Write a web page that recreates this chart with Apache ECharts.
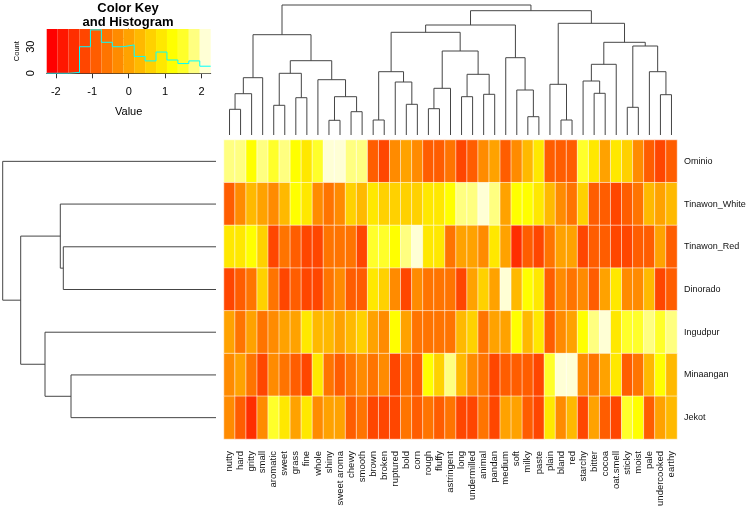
<!DOCTYPE html>
<html><head><meta charset="utf-8">
<script src="https://cdn.jsdelivr.net/npm/echarts@6/dist/echarts.min.js"></script>
<style>html,body{margin:0;padding:0;background:#fff}#c{width:750px;height:511px}</style>
</head><body><div id="c"></div>
<script>
// ---------- data ----------
const columns = ['nutty','hard','gritty','small','aromatic','sweet','grass','fine','whole','shiny','sweet aroma','chewy','smooth','brown','broken','ruptured','bold','corn','rough','fluffy','astringent','long','undermilled','animal','pandan','medium','soft','milky','paste','plain','bland','red','starchy','bitter','cocoa','oat.smell','sticky','moist','pale','undercooked','earthy'];
const rows = ['Ominio','Tinawon_White','Tinawon_Red','Dinorado','Ingudpur','Minaangan','Jekot'];

const Ominio        = [1.8,1.8,1.2,1.8,1.5,1.8,1.2,0.9,1.5,2.1,2.1,1.8,1.8, -0.9,-1.2,-0.3,0,-0.3,-0.9,-0.9,-0.6,-1.2,-0.9,-0.3,0,-0.9,-0.3, 0.3,0.9,-0.9,-0.9,-0.9,1.5,0.9,0,0.9,0.6,-0.3,-0.9,-1.2,-0.9];
const Tinawon_White = [-0.9,-0.3,0.3,0,-0.3,0.3,1.2,0.9,-0.3,-0.6,-0.3,0.6,0.3, 0.9,0.6,0.6,0.6,0.6,0.9,0.9,1.2,1.8,1.8,2.1,1.8,0,1.2, 1.2,0.9,0.3,-0.3,-0.6,0.6,-0.9,-0.9,-1.2,-0.9,-0.6,0.3,0,0.3];
const Tinawon_Red   = [0.9,0.9,1.2,0.6,-1.2,-0.6,-0.9,-1.2,-1.2,-0.6,-0.6,-0.6,-1.2, 1.5,1.5,1.2,1.8,2.1,0.9,0.9,-0.6,0,0,-0.3,0.9,0,-1.5, -0.9,-1.2,-0.6,0,0,-1.2,-0.9,-0.9,-1.2,-1.2,-0.9,-0.9,0,-0.9];
const Dinorado      = [-1.2,-0.9,-0.6,0.6,-0.6,-1.2,-0.9,-1.2,-1.2,-0.6,-0.3,-0.9,-0.9, 0.9,0.6,-0.3,-1.2,-0.3,-0.6,-0.6,-0.6,-1.2,0,0.6,0,2.1,0.3, 1.2,0.9,-0.9,-0.3,-0.6,-0.3,-0.9,0,0.9,-0.3,-0.3,0.3,-1.2,-0.9];
const Ingudpur      = [0,-0.6,0,-0.6,-0.3,0,0,0.9,0.3,0.3,0,0.3,0.6, 0,-0.3,1.2,0,-0.6,-0.6,-0.6,-0.6,0.3,0.6,-0.6,0,0,1.2, 0.3,0.9,-0.9,-0.3,0,1.2,1.8,2.1,0.9,1.5,1.5,1.8,1.5,1.8];
const Minaangan     = [-0.3,0,-0.6,-1.2,-0.3,-0.6,-0.9,-1.2,0.9,-0.6,-0.9,-0.6,-0.3, -0.6,-0.3,-1.2,-0.6,-0.9,1.2,0.6,1.8,0.3,-0.3,-0.6,-1.2,-0.9,-0.9, -0.9,-1.2,1.5,2.1,2.1,-0.3,-0.6,0,0.9,-0.9,-0.6,0.3,1.2,0.3];
const Jekot         = [-0.3,-0.9,-1.5,-0.3,1.5,0.9,0,0.9,-0.3,0,0,-0.9,-0.6, -1.2,-1.2,-1.2,-0.6,-0.9,-0.6,-0.9,-0.6,-1.2,-1.2,-0.6,-1.2,0,0, -0.9,-1.2,0.9,-0.3,0.3,-1.2,0,-0.9,-1.2,1.5,1.2,-0.9,0,0.3];
const rowValues = [Ominio, Tinawon_White, Tinawon_Red, Dinorado, Ingudpur, Minaangan, Jekot];

// colour key: breaks, colours (heat.colors(15)), histogram counts
const breaks = [-2.25,-1.95,-1.65,-1.35,-1.05,-0.75,-0.45,-0.15,0.15,0.45,0.75,1.05,1.35,1.65,1.95,2.25];
const keyColors = ['#FF0000','#FF1700','#FF2E00','#FF4600','#FF5D00','#FF7400','#FF8B00','#FFA200','#FFB900','#FFD100','#FFE800','#FFFF00','#FFFF2A','#FFFF80','#FFFFD5'];
const histCounts = [0,0,1,30,49,35,30,32,19,14,24,15,11,14,8];
const keyXTicks = [-2,-1,0,1,2];
const keyYLabels = [0,30];

// dendrograms: [height, left, right]; numbers are leaf positions
const colTree = [130,
  [100.3,
    [57.3, [41.3, [25.7, 0, 1], 2], 3],
    [74.3,
      [61.7, [29.7, 4, 5], [37.3, 6, 7]],
      [55.3, 8, [38.3, [14.7, 9, 10], [23.3, 11, 12]]]]],
  [124.3,
    [110,
      [102.7,
        [63.3, [15, 13, 14], [53, 15, [30.7, 16, 17]]],
        [84, [46.7, [26.3, 18, 19], 20], [60.7, [38.3, 21, 22], [40.7, 23, 24]]]],
      [77.3, 25, [45, 26, [18.3, 27, 28]]]],
    [111.7,
      [50.7, 29, [15, 30, 31]],
      [92.7,
        [70.7, [54, 32, [41.7, 33, 34]], 35],
        [89, [27.7, 36, 37], [63.3, 38, [40.3, 39, 40]]]]]]];
const rowTree = [213.3, 0, [195.3, [155.7, 1, [152.7, 2, 3]], [171, 4, [145, 5, 6]]]];

// ---------- build ----------
function flatten(node, out) {
  if (typeof node === 'number') return {pos: node, h: 0};
  const a = flatten(node[1], out), b = flatten(node[2], out);
  out.push([a.pos, a.h, b.pos, b.h, node[0]]);
  return {pos: (a.pos + b.pos) / 2, h: node[0]};
}
const colSegs = []; flatten(colTree, colSegs);
const rowSegs = []; flatten(rowTree, rowSegs);

const heatData = [];
rowValues.forEach((arr, r) => arr.forEach((v, c) => heatData.push([c, r, v])));
const bandData = keyColors.map((c, k) => [breaks[k], breaks[k + 1], k]);
const histLine = [];
histCounts.forEach((n, k) => { histLine.push([breaks[k], n]); histLine.push([breaks[k + 1], n]); });
const pieces = keyColors.map((c, k) => ({gte: breaks[k], lt: breaks[k + 1], color: c}));

const FONT = "'Liberation Sans', Arial, sans-serif";
const LINE = '#454545';
const hidden = {show: false};

const chart = echarts.init(document.getElementById('c'), null, {renderer: 'canvas', width: 750, height: 511});
chart.setOption({
  animation: false,
  backgroundColor: '#ffffff',
  textStyle: {fontFamily: FONT},
  graphic: [
    {type: 'text', left: null, x: 128, y: 8, style: {text: 'Color Key', font: "bold 13px 'Liberation Sans', Arial, sans-serif", fill: '#000', align: 'center', verticalAlign: 'middle'}},
    {type: 'text', x: 128, y: 22.5, style: {text: 'and Histogram', font: "bold 13px 'Liberation Sans', Arial, sans-serif", fill: '#000', align: 'center', verticalAlign: 'middle'}, z: 100}
  ],
  visualMap: {type: 'piecewise', show: false, seriesIndex: 4, dimension: 2, pieces: pieces},
  grid: [
    {left: 46.7, top: 29, width: 164, height: 44.3, outerBoundsMode: 'none'},
    {left: 224, top: 5, width: 453, height: 130, outerBoundsMode: 'none'},
    {left: 2.7, top: 140, width: 213.3, height: 299, outerBoundsMode: 'none'},
    {left: 224, top: 140, width: 453, height: 299, outerBoundsMode: 'none'}
  ],
  xAxis: [
    {gridIndex: 0, type: 'value', min: -2.25, max: 2.25, position: 'bottom', offset: 1.5,
     axisLine: {show: true, lineStyle: {color: '#333', width: 1}},
     axisTick: {show: true, length: 5, customValues: keyXTicks, lineStyle: {color: '#333'}},
     axisLabel: {show: true, customValues: keyXTicks, fontSize: 11, color: '#000', margin: 12, fontFamily: FONT},
     splitLine: hidden,
     name: 'Value', nameLocation: 'middle', nameGap: 32, nameTextStyle: {fontSize: 11, color: '#000', fontFamily: FONT}},
    {gridIndex: 1, type: 'value', min: -0.5, max: 40.5, show: false},
    {gridIndex: 2, type: 'value', min: 0, max: 213.3, inverse: true, show: false},
    {gridIndex: 3, type: 'category', data: columns, position: 'bottom',
     axisLine: hidden, axisTick: hidden, splitLine: hidden,
     axisLabel: {rotate: 90, interval: 0, fontSize: 9.5, color: '#111', margin: 12, fontFamily: FONT}}
  ],
  yAxis: [
    {gridIndex: 0, type: 'value', min: 0, max: 50, interval: 10, position: 'left', offset: 2,
     axisLine: {show: true, lineStyle: {color: '#333', width: 1}},
     axisTick: {show: true, length: 5, lineStyle: {color: '#333'}},
     axisLabel: {show: true, rotate: 90, fontSize: 11, color: '#000', margin: 8, fontFamily: FONT,
       formatter: v => keyYLabels.indexOf(v) >= 0 ? String(v) : ''},
     splitLine: hidden,
     name: 'Count', nameLocation: 'middle', nameRotate: 90, nameGap: 24, nameTextStyle: {fontSize: 7.5, color: '#000', fontFamily: FONT}},
    {gridIndex: 1, type: 'value', min: 0, max: 130, show: false},
    {gridIndex: 2, type: 'value', min: -0.5, max: 6.5, inverse: true, show: false},
    {gridIndex: 3, type: 'category', data: rows, inverse: true, position: 'right',
     axisLine: hidden, axisTick: hidden, splitLine: hidden,
     axisLabel: {fontSize: 9, color: '#111', margin: 7, fontFamily: FONT}}
  ],
  series: [
    {type: 'custom', xAxisIndex: 0, yAxisIndex: 0, data: bandData, encode: {x: [0, 1]}, silent: true, z: 1,
     renderItem: (params, api) => {
       const p0 = api.coord([api.value(0), 50]);
       const p1 = api.coord([api.value(1), 0]);
       return {type: 'rect', shape: {x: p0[0], y: p0[1], width: p1[0] - p0[0], height: p1[1] - p0[1]},
               style: {fill: keyColors[api.value(2)], stroke: null}};
     }},
    {type: 'line', xAxisIndex: 0, yAxisIndex: 0, data: histLine, symbol: 'none', silent: true, z: 3,
     lineStyle: {color: '#00FFFF', width: 1}},
    {type: 'custom', xAxisIndex: 1, yAxisIndex: 1, data: colSegs, encode: {x: [0, 2], y: [1, 3, 4]}, silent: true,
     renderItem: (params, api) => {
       const x1 = api.value(0), h1 = api.value(1), x2 = api.value(2), h2 = api.value(3), h = api.value(4);
       return {type: 'polyline', shape: {points: [api.coord([x1, h1]), api.coord([x1, h]), api.coord([x2, h]), api.coord([x2, h2])]},
               style: {stroke: LINE, lineWidth: 1, fill: null}};
     }},
    {type: 'custom', xAxisIndex: 2, yAxisIndex: 2, data: rowSegs, encode: {y: [0, 2], x: [1, 3, 4]}, silent: true,
     renderItem: (params, api) => {
       const y1 = api.value(0), h1 = api.value(1), y2 = api.value(2), h2 = api.value(3), h = api.value(4);
       return {type: 'polyline', shape: {points: [api.coord([h1, y1]), api.coord([h, y1]), api.coord([h, y2]), api.coord([h2, y2])]},
               style: {stroke: LINE, lineWidth: 1, fill: null}};
     }},
    {type: 'heatmap', xAxisIndex: 3, yAxisIndex: 3, data: heatData, silent: true, progressive: 0,
     itemStyle: {borderColor: 'rgba(255,255,255,0.55)', borderWidth: 1},
     emphasis: {disabled: true}}
  ]
});
</script>
</body></html>
